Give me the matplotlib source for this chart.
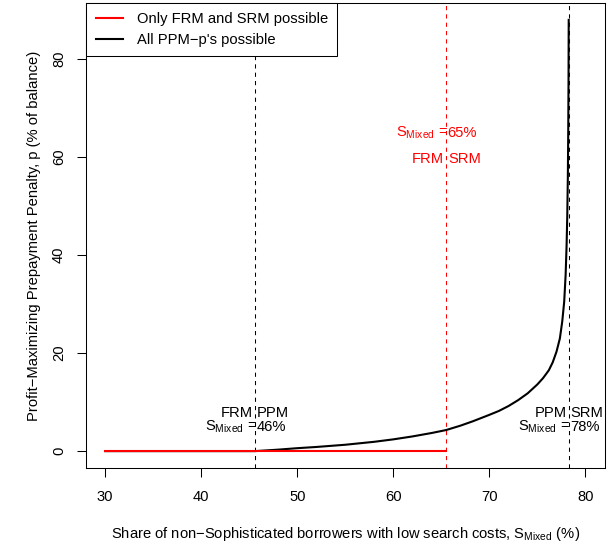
import numpy as np
import matplotlib
matplotlib.use("Agg")
import matplotlib.pyplot as plt

plt.rcParams['font.family'] = ['Liberation Sans', 'DejaVu Sans']
plt.rcParams['mathtext.fontset'] = 'custom'
plt.rcParams['mathtext.rm'] = 'Liberation Sans'
plt.rcParams['mathtext.it'] = 'Liberation Sans:italic'
plt.rcParams['mathtext.bf'] = 'Liberation Sans:bold'

FS = 10.6

# Profit-maximizing penalty when every PPM-p contract is allowed
s_all = [30, 45.6, 48, 50, 52, 55, 58, 60, 62, 64, 65.5, 67, 68.3, 70, 71,
         72, 73, 74, 75, 75.6, 76.2, 76.6, 77.0, 77.35, 77.6, 77.8, 77.95,
         78.05, 78.12, 78.18, 78.22, 78.25, 78.27]
p_all = [0, 0, 0.3, 0.6, 0.85, 1.3, 1.9, 2.4, 3.0, 3.7, 4.3, 5.2, 6.1, 7.4, 8.2,
         9.2, 10.4, 11.8, 13.6, 14.9, 16.5, 18.1, 20.3, 23.0, 26.5, 30.5, 36.0,
         42.0, 48.0, 56.0, 65.0, 75.0, 88.0]

# Only FRM and SRM offered: no penalty
s_frm_srm = [30, 65.5]
p_frm_srm = [0, 0]

# Regime thresholds (share of mixed borrowers)
thr_frm_ppm = 45.6
thr_frm_srm = 65.5
thr_ppm_srm = 78.27

xticks = [30, 40, 50, 60, 70, 80]
yticks = [0, 20, 40, 60, 80]

fig = plt.figure(figsize=(6.11, 5.44), dpi=100)
ax = fig.add_axes([0.1408, 0.1392, 0.9894 - 0.1408, 0.995 - 0.1392])

h_all, = ax.plot(s_all, p_all, color='black', lw=1.5,
                 label="All PPM\u2212p's possible", zorder=3)
h_red, = ax.plot(s_frm_srm, p_frm_srm, color='red', lw=1.5,
                 label='Only FRM and SRM possible', zorder=4)

dash = (0, (4, 4))
ax.axvline(thr_frm_ppm, color='black', lw=0.75, ls=dash, zorder=2)
ax.axvline(thr_frm_srm, color='red', lw=0.75, ls=dash, zorder=2)
ax.axvline(thr_ppm_srm, color='black', lw=0.75, ls=dash, zorder=2)

smix = r'$\mathrm{S}_{\mathrm{Mixed}}$'


def split_label(x, y, left, right, color, lgap=1.5, rgap=1.5):
    ax.annotate(left, (x, y), xytext=(-lgap, 0), textcoords='offset points',
                ha='right', va='baseline', color=color, fontsize=FS)
    ax.annotate(right, (x, y), xytext=(rgap, 0), textcoords='offset points',
                ha='left', va='baseline', color=color, fontsize=FS)


split_label(thr_frm_ppm, 6.9, 'FRM', 'PPM', 'black')
split_label(thr_frm_ppm, 4.1, smix + ' =', '46%', 'black', lgap=-1.2, rgap=1.0)
split_label(thr_ppm_srm, 6.9, 'PPM', 'SRM', 'black')
split_label(thr_ppm_srm, 4.1, smix + ' =', '78%', 'black', lgap=-1.2, rgap=1.0)
split_label(thr_frm_srm, 64.1, smix + ' =', '65%', 'red', lgap=-1.2, rgap=1.0)
split_label(thr_frm_srm, 58.8, 'FRM', 'SRM', 'red')

ax.set_xlim(28, 82)
ax.set_ylim(-3.5, 91.5)
ax.set_xticks(xticks)
ax.set_yticks(yticks)
ax.tick_params(direction='out', length=6.5, width=0.75, labelsize=FS, pad=8)
ax.tick_params(axis='x', pad=9.5)
ax.tick_params(axis='y', labelrotation=90)
for t in ax.get_yticklabels():
    t.set_va('center')
for sp in ax.spines.values():
    sp.set_linewidth(0.75)

ax.set_xlabel('Share of non\u2212Sophisticated borrowers with low search costs, '
              + smix + ' (%)', fontsize=FS, labelpad=15)
ax.set_ylabel('Profit\u2212Maximizing Prepayment Penalty, p (% of balance)',
              fontsize=FS, labelpad=8)

leg = ax.legend(handles=[h_red, h_all], loc='upper left', fontsize=FS,
                frameon=True, fancybox=False, edgecolor='black', framealpha=1,
                borderaxespad=0, handlelength=1.88, handletextpad=0.9,
                borderpad=0.65, labelspacing=0.45)
leg.get_frame().set_linewidth(0.75)

fig.savefig('out.png', dpi=100)
